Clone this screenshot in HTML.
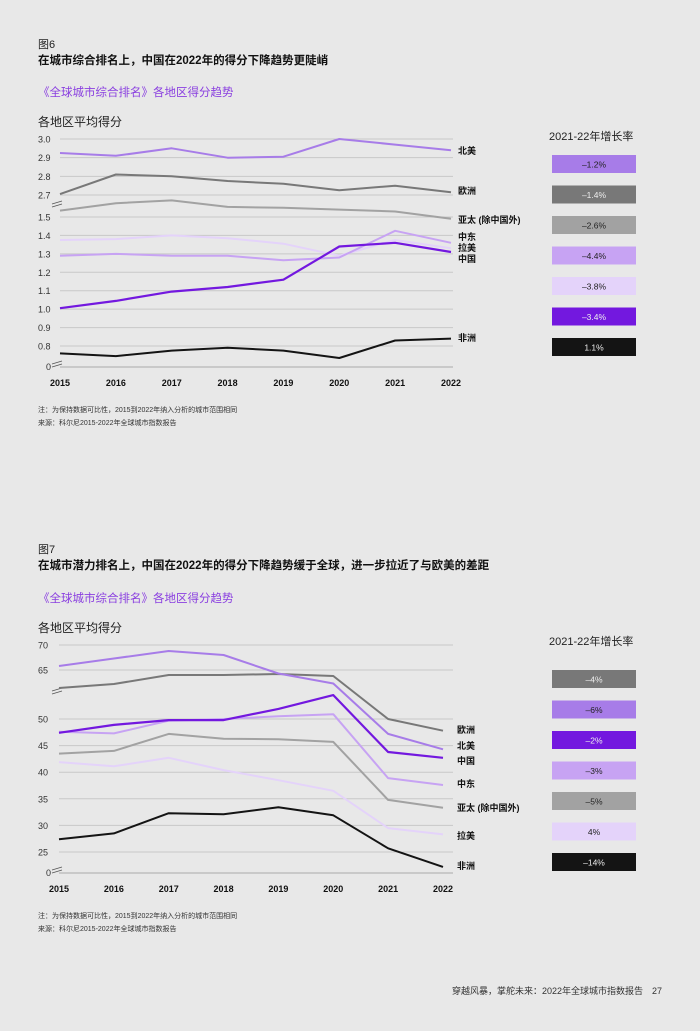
<!DOCTYPE html>
<html><head><meta charset="utf-8">
<style>
html,body{margin:0;padding:0;background:#e8e8e8;}
body{width:700px;height:1031px;overflow:hidden;position:relative;font-family:"Liberation Sans","Noto Sans CJK SC",sans-serif;}
svg{position:absolute;left:0;top:0;}
</style></head>
<body>
<svg id="page" width="700" height="1031" viewBox="0 0 700 1031" font-family="Liberation Sans, Noto Sans CJK SC, sans-serif">
<text x="38" y="48" font-size="11" fill="#222">图6</text>
<text x="38" y="64" font-size="11.5" font-weight="bold" fill="#111">在城市综合排名上，中国在2022年的得分下降趋势更陡峭</text>
<text x="38" y="96" font-size="11.5" fill="#8a3fe0">《全球城市综合排名》各地区得分趋势</text>
<text x="38" y="126" font-size="12" fill="#222">各地区平均得分</text>
<text x="549" y="140" font-size="11" fill="#222">2021-22年增长率</text>
<text x="38" y="412" font-size="7" fill="#333">注：为保持数据可比性，2015到2022年纳入分析的城市范围相同</text>
<text x="38" y="425" font-size="7" fill="#333">来源：科尔尼2015-2022年全球城市指数报告</text>

<text x="38" y="553" font-size="11" fill="#222">图7</text>
<text x="38" y="569" font-size="11.5" font-weight="bold" fill="#111">在城市潜力排名上，中国在2022年的得分下降趋势缓于全球，进一步拉近了与欧美的差距</text>
<text x="38" y="602" font-size="11.5" fill="#8a3fe0">《全球城市综合排名》各地区得分趋势</text>
<text x="38" y="632" font-size="12" fill="#222">各地区平均得分</text>
<text x="549" y="645" font-size="11" fill="#222">2021-22年增长率</text>
<text x="38" y="918" font-size="7" fill="#333">注：为保持数据可比性，2015到2022年纳入分析的城市范围相同</text>
<text x="38" y="931" font-size="7" fill="#333">来源：科尔尼2015-2022年全球城市指数报告</text>

<text x="662" y="994" font-size="9" fill="#333" text-anchor="end">穿越风暴，掌舵未来：2022年全球城市指数报告　27</text>
<g id="c1"></g>
<g id="c2"></g>
</svg>
<script>
const years = [2015,2016,2017,2018,2019,2020,2021,2022];
// Figure 6
const f6Regions = ["北美","欧洲","亚太 (除中国外)","中东","拉美","中国","非洲"];
const f6NorthAmerica = [2.925,2.91,2.95,2.90,2.905,3.0,2.97,2.94];
const f6Europe = [2.705,2.81,2.80,2.775,2.76,2.725,2.75,2.715];
const f6AsiaPacific = [1.535,1.575,1.59,1.555,1.55,1.54,1.53,1.49];
const f6MiddleEast = [1.29,1.30,1.29,1.29,1.265,1.28,1.425,1.36];
const f6LatAm = [1.375,1.38,1.40,1.385,1.355,1.29,1.375,1.33];
const f6China = [1.005,1.045,1.095,1.12,1.16,1.34,1.36,1.31];
const f6Africa = [0.76,0.745,0.775,0.79,0.775,0.735,0.83,0.84];
const f6Growth = ["–1.2%","–1.4%","–2.6%","–4.4%","–3.8%","–3.4%","1.1%"];
const f6Ticks = [3.0,2.9,2.8,2.7,1.5,1.4,1.3,1.2,1.1,1.0,0.9,0.8];
// Figure 7
const f7Regions = ["欧洲","北美","中国","中东","亚太 (除中国外)","拉美","非洲"];
const f7Europe = [61.4,62.2,64.0,64.0,64.2,63.8,50.0,47.8];
const f7NorthAmerica = [65.8,67.3,68.8,68.0,64.3,62.3,47.2,44.3];
const f7China = [47.4,48.9,49.8,49.8,51.9,54.5,43.8,42.7];
const f7MiddleEast = [47.6,47.3,49.7,50.0,50.5,50.9,38.9,37.6];
const f7AsiaPacific = [43.5,44.0,47.2,46.3,46.2,45.7,34.8,33.3];
const f7LatAm = [41.9,41.1,42.7,40.4,38.5,36.5,29.5,28.3];
const f7Africa = [27.4,28.5,32.3,32.1,33.4,31.9,25.7,22.2];
const f7Growth = ["–4%","–6%","–2%","–3%","–5%","4%","–14%"];
const f7Ticks = [70,65,50,45,40,35,30,25];

const NS="http://www.w3.org/2000/svg";
function mk(parent,tag,attrs){const e=document.createElementNS(NS,tag);for(const k in attrs)e.setAttribute(k,attrs[k]);parent.appendChild(e);return e;}

function drawChart(g, cfg, yScale, series, colors, order, labels, labelYs, growth, boxTop, boxStep, boxText){
  const xs=i=>cfg.x0+i*(cfg.x1-cfg.x0)/(years.length-1);
  cfg.ticks.forEach(t=>{
    const y=yScale(t);
    const l=mk(g,'line',{x1:cfg.gx0,x2:cfg.gx1,y1:y,y2:y,stroke:'#c8c8c8','stroke-width':1});
    
    
    const tx=mk(g,'text',{x:38,y:y+3.5,'font-size':9,fill:'#333'});
    tx.textContent=cfg.fmt(t);
    
    
  });
  const b=mk(g,'line',{x1:cfg.gx0,x2:cfg.gx1,y1:cfg.base,y2:cfg.base,stroke:'#aaa','stroke-width':1});
  
  
  const z=mk(g,'text',{x:46,y:cfg.base+3,'font-size':9,fill:'#333'});z.textContent='0';
  
  
  [cfg.base-4,cfg.breakY].forEach(by=>{
    const bk=mk(g,'path',{d:`M52 ${by+1} L62 ${by-2} M52 ${by+4} L62 ${by+1}`,stroke:'#555','stroke-width':0.8,fill:'none'});
    
    
  });
  years.forEach((yr,i)=>{
    const t=mk(g,'text',{x:xs(i),y:cfg.base+19,'font-size':9,'font-weight':'bold',fill:'#111','text-anchor':'middle'});
    t.textContent=yr;
    
    
  });
  order.forEach(k=>{
    const d=series[k].map((v,i)=>(i?'L':'M')+xs(i).toFixed(1)+' '+yScale(v).toFixed(1)).join(' ');
    const p=mk(g,'path',{d:d,fill:'none',stroke:colors[k],'stroke-width':k===cfg.thick?2.2:2,'stroke-linejoin':'round'});
    
    
  });
  labels.forEach((lb,i)=>{
    const t=mk(g,'text',{x:cfg.lx,y:labelYs[i],'font-size':9,'font-weight':'bold',fill:'#111'});
    t.textContent=lb;
    
    
  });
  growth.forEach((gv,i)=>{
    const y=boxTop+i*boxStep;
    const r=mk(g,'rect',{x:552,y:y,width:84,height:18,fill:cfg.boxColors[i]});
    
    
    const t=mk(g,'text',{x:594,y:y+12.5,'font-size':8.5,fill:boxText[i],'text-anchor':'middle'});
    t.textContent=gv;
    
    
  });
}
const C={na:'#a77ce8',eu:'#787878',ap:'#a2a2a2',me:'#c7a3f3',la:'#e4d3fa',cn:'#7318df',af:'#141414'};

// Fig 6 scale
function y6(v){return v>=2.0 ? 195-(v-2.7)*(195-139)/0.3 : 346-(v-0.8)*(346-217)/0.7;}
drawChart(document.getElementById('c1'),
 {x0:60,x1:451,gx0:60,gx1:453,base:367,breakY:203,ticks:f6Ticks,fmt:t=>t.toFixed(1),lx:458,thick:'cn',
  boxColors:[C.na,C.eu,C.ap,C.me,C.la,C.cn,C.af]},
 y6,
 {na:f6NorthAmerica,eu:f6Europe,ap:f6AsiaPacific,me:f6MiddleEast,la:f6LatAm,cn:f6China,af:f6Africa},
 C,['la','ap','me','eu','na','cn','af'],
 f6Regions,[154,194,223,240,251,262,341],
 f6Growth,155,30.5,['#222','#eee','#222','#222','#222','#eee','#eee']);

// Fig 7 scale
function y7(v){return v>=58 ? 670-(v-65)*5 : 719-(v-50)*5.32;}
drawChart(document.getElementById('c2'),
 {x0:59,x1:443,gx0:59,gx1:453,base:873,breakY:690,ticks:f7Ticks,fmt:t=>String(t),lx:457,thick:'cn',
  boxColors:[C.eu,C.na,C.cn,C.me,C.ap,C.la,C.af]},
 y7,
 {eu:f7Europe,na:f7NorthAmerica,cn:f7China,me:f7MiddleEast,ap:f7AsiaPacific,la:f7LatAm,af:f7Africa},
 C,['la','ap','me','eu','na','cn','af'],
 f7Regions,[733,749,764,787,811,839,869],
 f7Growth,670,30.5,['#eee','#222','#eee','#222','#222','#222','#eee']);
</script>
</body></html>
